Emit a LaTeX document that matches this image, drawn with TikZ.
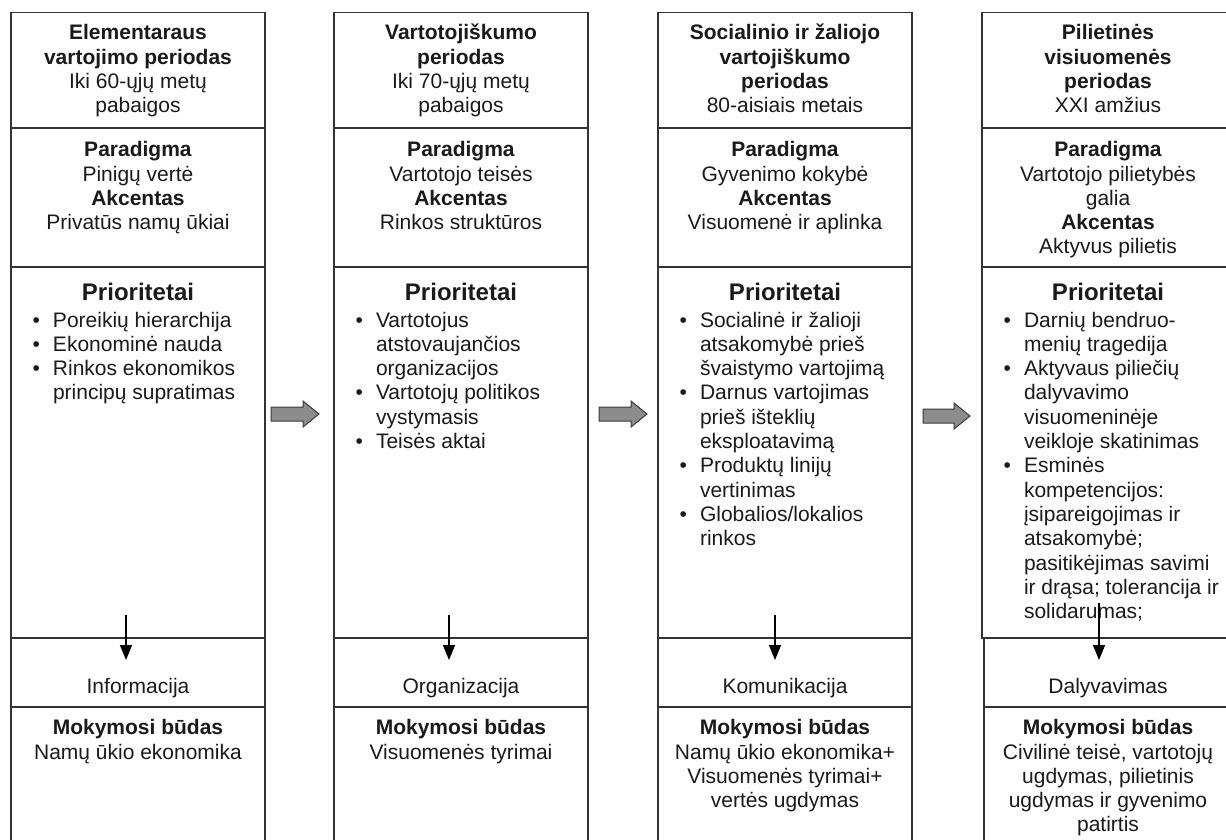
\documentclass[tikz,border=0pt]{standalone}
\usepackage{fontspec}
\setmainfont{Liberation Sans}
\usetikzlibrary{arrows.meta}

\definecolor{ln}{HTML}{333333}
\definecolor{tx}{HTML}{1A1A1A}
\definecolor{blk}{HTML}{8C8C8C}
\definecolor{blkedge}{HTML}{3C3C3C}

\tikzset{
  colbox/.style={draw=ln, line width=1.3pt},
  txt/.style={inner sep=0pt, outer sep=0pt, text=tx, font=\fontsize{21}{24.2}\selectfont, align=center, anchor=north},
  lst/.style={inner sep=0pt, outer sep=0pt, text=tx, font=\fontsize{21}{24.3}\selectfont, align=left, anchor=north west},
  ttl/.style={inner sep=0pt, outer sep=0pt, text=tx, font=\fontsize{24}{28}\selectfont\bfseries, anchor=base},
  lbl/.style={inner sep=0pt, outer sep=0pt, text=tx, font=\fontsize{21}{24.2}\selectfont, anchor=base},
  down/.style={draw=black, line width=1.5pt, -{Triangle[width=12pt,length=15pt]}},
  blockarrow/.style={draw=blkedge, line width=1pt, fill=blk, line join=miter},
}
\newcommand{\bul}{\llap{\textbullet\hspace{13pt}}}

\begin{document}
\begin{tikzpicture}[x=1pt,y=-1pt]
\useasboundingbox (0,0) rectangle (1226,839);
\fill[white] (0,0) rectangle (1226,839);
\clip (0,0) rectangle (1226,839);

% ---------- column frames ----------
\foreach \L in {11,334,658}{
  \draw[colbox] (\L,12.7) rectangle (\L+254,850);
  \foreach \y in {128,267,638,707}
    \draw[colbox] (\L,\y) -- (\L+254,\y);
}
\draw[colbox] (982,12.7) rectangle (1236,638);
\draw[colbox] (982,128) -- (1236,128);
\draw[colbox] (982,267) -- (1236,267);
\draw[colbox] (984,638) rectangle (1236,850);
\draw[colbox] (984,707) -- (1236,707);

% ---------- block arrows between columns ----------
\draw[blockarrow] (271,407) -- (303,407) -- (303,401) -- (319,414) -- (303,427) -- (303,421) -- (271,421) -- cycle;
\draw[blockarrow] (599,407) -- (631,407) -- (631,401) -- (647,414) -- (631,427) -- (631,421) -- (599,421) -- cycle;
\draw[blockarrow] (923,409) -- (954,409) -- (954,403) -- (970,416) -- (954,429) -- (954,423) -- (923,423) -- cycle;

% ---------- column 1 ----------
\node[txt] (h1) at (138,23) {\strut\textbf{Elementaraus}\\\textbf{vartojimo periodas}\\Iki 60-ųjų metų\\pabaigos};
\node[txt] (p1) at (138,140) {\strut\textbf{Paradigma}\\Pinigų vertė\\\textbf{Akcentas}\\Privatūs namų ūkiai};
\node[ttl] (t1) at (138,300) {Prioritetai};
\node[lst] (l1) at (53,310) {\strut\bul Poreikių hierarchija\\\bul Ekonominė nauda\\\bul Rinkos ekonomikos\\principų supratimas};
\node[lbl] (i1) at (138,693) {Informacija};
\node[txt] (m1) at (138,718) {\strut\textbf{Mokymosi būdas}\\Namų ūkio ekonomika};

% ---------- column 2 ----------
\node[txt] (h2) at (461,23) {\strut\textbf{Vartotojiškumo}\\\textbf{periodas}\\Iki 70-ųjų metų\\pabaigos};
\node[txt] (p2) at (461,140) {\strut\textbf{Paradigma}\\Vartotojo teisės\\\textbf{Akcentas}\\Rinkos struktūros};
\node[ttl] (t2) at (461,300) {Prioritetai};
\node[lst] (l2) at (376,310) {\strut\bul Vartotojus\\atstovaujančios\\organizacijos\\\bul Vartotojų politikos\\vystymasis\\\bul Teisės aktai};
\node[lbl] (i2) at (461,693) {Organizacija};
\node[txt] (m2) at (461,718) {\strut\textbf{Mokymosi būdas}\\Visuomenės tyrimai};

% ---------- column 3 ----------
\node[txt] (h3) at (785,23) {\strut\textbf{Socialinio ir žaliojo}\\\textbf{vartojiškumo}\\\textbf{periodas}\\80-aisiais metais};
\node[txt] (p3) at (785,140) {\strut\textbf{Paradigma}\\Gyvenimo kokybė\\\textbf{Akcentas}\\Visuomenė ir aplinka};
\node[ttl] (t3) at (785,300) {Prioritetai};
\node[lst] (l3) at (700,310) {\strut\bul Socialinė ir žalioji\\atsakomybė prieš\\švaistymo vartojimą\\\bul Darnus vartojimas\\prieš išteklių\\eksploatavimą\\\bul Produktų linijų\\vertinimas\\\bul Globalios/lokalios\\rinkos};
\node[lbl] (i3) at (785,693) {Komunikacija};
\node[txt] (m3) at (785,718) {\strut\textbf{Mokymosi būdas}\\Namų ūkio ekonomika+\\Visuomenės tyrimai+\\vertės ugdymas};

% ---------- column 4 ----------
\node[txt] (h4) at (1108,23) {\strut\textbf{Pilietinės}\\\textbf{visiuomenės}\\\textbf{periodas}\\XXI amžius};
\node[txt] (p4) at (1108,140) {\strut\textbf{Paradigma}\\Vartotojo pilietybės\\galia\\\textbf{Akcentas}\\Aktyvus pilietis};
\node[ttl] (t4) at (1108,300) {Prioritetai};
\node[lst] (l4) at (1024,310) {\strut\bul Darnių bendruo-\\menių tragedija\\\bul Aktyvaus piliečių\\dalyvavimo\\visuomeninėje\\veikloje skatinimas\\\bul Esminės\\kompetencijos:\\įsipareigojimas ir\\atsakomybė;\\pasitikėjimas savimi\\ir drąsa; tolerancija ir\\solidarumas;};
\node[lbl] (i4) at (1108,693) {Dalyvavimas};
\node[txt] (m4) at (1108,718) {\strut\textbf{Mokymosi būdas}\\Civilinė teisė, vartotojų\\ugdymas, pilietinis\\ugdymas ir gyvenimo\\patirtis};

% ---------- downward arrows ----------
\coordinate (d1s) at (126,615); \coordinate (d1e) at (126,660);
\coordinate (d2s) at (449,615); \coordinate (d2e) at (449,660);
\coordinate (d3s) at (775,615); \coordinate (d3e) at (775,660);
\coordinate (d4s) at (1099,603); \coordinate (d4e) at (1099,660);
\draw[down] (d1s) -- (d1e);
\draw[down] (d2s) -- (d2e);
\draw[down] (d3s) -- (d3e);
\draw[down] (d4s) -- (d4e);
\end{tikzpicture}
\end{document}
